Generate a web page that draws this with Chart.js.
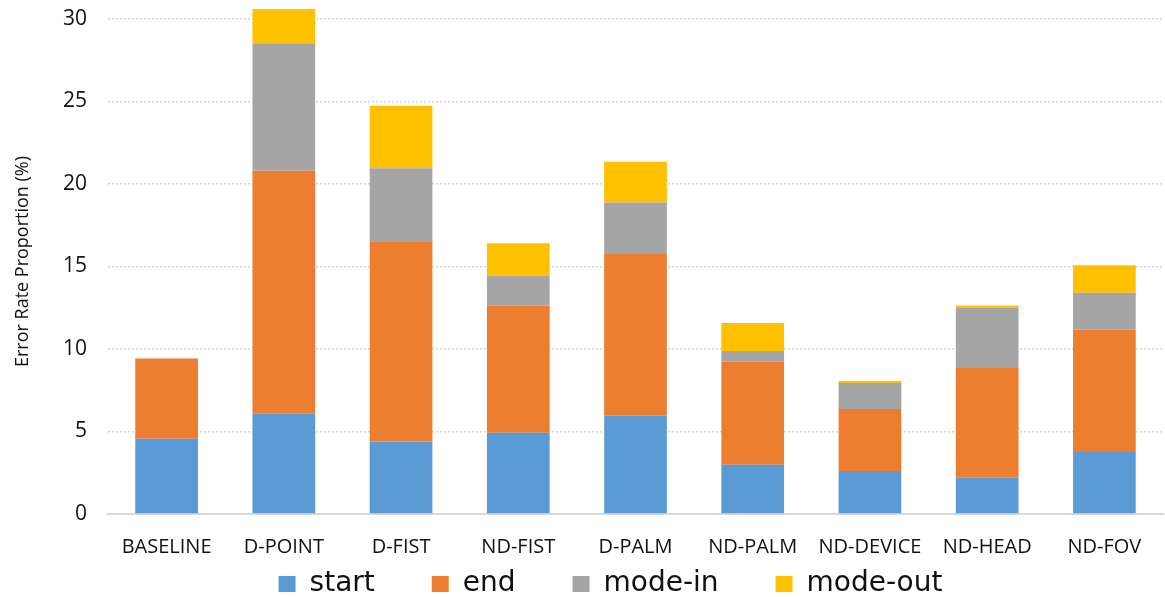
<!DOCTYPE html>
<html>
<head>
<meta charset="utf-8">
<script src="https://cdn.jsdelivr.net/npm/chart.js@4"></script>
<style>
  html, body { margin: 0; padding: 0; background: #fff; }
  #wrap { width: 1165px; height: 597px; }
</style>
</head>
<body>
<div id="wrap"><canvas id="grafico"></canvas></div>
<script>
const categorias = ['BASELINE', 'D-POINT', 'D-FIST', 'ND-FIST', 'D-PALM', 'ND-PALM', 'ND-DEVICE', 'ND-HEAD', 'ND-FOV'];
const start   = [4.56, 6.08, 4.40, 4.93, 5.96, 2.99, 2.60, 2.20, 3.75];
const end     = [4.86, 14.72, 12.12, 7.70, 9.79, 6.25, 3.76, 6.65, 7.43];
const modeIn  = [0, 7.73, 4.43, 1.80, 3.13, 0.64, 1.58, 3.66, 2.22];
const modeOut = [0, 2.07, 3.78, 1.97, 2.47, 1.70, 0.12, 0.12, 1.68];
const yTicks = [0, 5, 10, 15, 20, 25, 30];

const fonteEixo = "'Open Sans', 'Noto Sans', sans-serif";
const legendaPadding = 57;

function serie(label, data, cor) {
    return {
        label: label,
        data: data,
        backgroundColor: cor,
        borderWidth: 0,
        barPercentage: 0.535,
        categoryPercentage: 1.0
    };
}

// a legenda do original fica mais espaçada e um pouco à direita:
// reposiciona a caixa da legenda depois do layout
const moverLegenda = {
    id: 'moverLegenda',
    afterLayout(chart) {
        const leg = chart.legend;
        const h = leg.bottom - leg.top;
        leg.left += 29;
        leg.right += 29;
        leg.top = 584 - 14 - legendaPadding;
        leg.bottom = leg.top + h;
    }
};

const ctx = document.getElementById('grafico').getContext('2d');
const chart = new Chart(ctx, {
    type: 'bar',
    data: {
        labels: categorias,
        datasets: [
            serie('start', start, '#5B9BD5'),
            serie('end', end, '#ED7D31'),
            serie('mode-in', modeIn, '#A5A5A5'),
            serie('mode-out', modeOut, '#FFC000')
        ]
    },
    options: {
        responsive: true,
        maintainAspectRatio: false,
        animation: false,
        layout: { padding: { top: 0, right: 2, bottom: -78, left: 0 } },
        scales: {
            x: {
                stacked: true,
                grid: { display: false, drawTicks: false },
                border: { display: true, color: '#d9d9d9', width: 2 },
                ticks: {
                    color: '#111',
                    font: { family: fonteEixo, size: 20 },
                    padding: 21,
                    maxRotation: 0
                }
            },
            y: {
                stacked: true,
                min: 0,
                max: 30.6,
                afterBuildTicks: (scale) => {
                    scale.ticks = yTicks.map(v => ({ value: v }));
                },
                afterFit: (scale) => {
                    scale.width = 108;
                    scale.paddingTop = 9;
                    scale.paddingBottom = 0;
                },
                grid: {
                    color: (c) => c.tick && c.tick.value === 0 ? 'rgba(0,0,0,0)' : '#d4d4d4',
                    lineWidth: 1.5,
                    drawTicks: false
                },
                border: { display: false, dash: [2, 2] },
                ticks: {
                    color: '#111',
                    font: { family: fonteEixo, size: 21 },
                    padding: 21
                },
                title: {
                    display: true,
                    text: 'Error Rate Proportion (%)',
                    color: '#111',
                    font: { family: fonteEixo, size: 18 },
                    padding: { top: 12, bottom: 0 }
                }
            }
        },
        plugins: {
            legend: {
                position: 'bottom',
                labels: {
                    color: '#111',
                    font: { family: "'DejaVu Sans', sans-serif", size: 28 },
                    boxWidth: 17,
                    boxHeight: 16,
                    padding: legendaPadding
                }
            },
            tooltip: { enabled: false }
        }
    },
    plugins: [moverLegenda]
});
</script>
</body>
</html>
